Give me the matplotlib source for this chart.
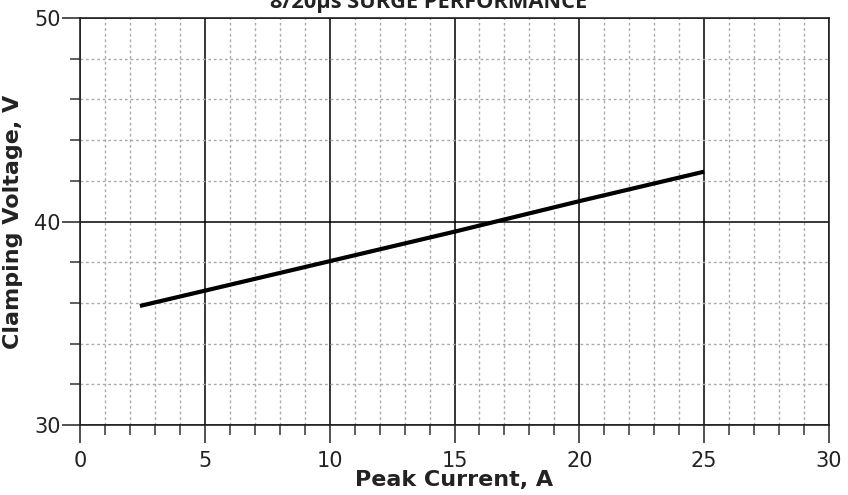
import numpy as np
import matplotlib.pyplot as plt
from matplotlib.ticker import MultipleLocator

# peak current (A) vs clamping voltage (V)
current = [2.4, 5, 10, 15, 20, 25]
voltage = [35.85, 36.6, 38.05, 39.5, 41.0, 42.45]

fig = plt.figure(figsize=(8.48, 4.95), dpi=100)
ax = fig.add_axes([80 / 848, 70 / 495, 749 / 848, 407 / 495])

ax.plot(current, voltage, color='black', lw=3, solid_capstyle='butt', zorder=3)

ax.set_xlim(0, 30)
ax.set_ylim(30, 50)
ax.xaxis.set_major_locator(MultipleLocator(5))
ax.xaxis.set_minor_locator(MultipleLocator(1))
ax.yaxis.set_major_locator(MultipleLocator(10))
ax.yaxis.set_minor_locator(MultipleLocator(2))

ax.grid(which='major', color='black', lw=1.1, ls='-')
ax.grid(which='minor', color='#aaaaaa', lw=1, ls=(0, (2, 2)))
ax.set_axisbelow(True)

ax.tick_params(which='major', direction='out', length=13, width=1.1,
               labelsize=15, colors='#222222')
ax.tick_params(which='minor', direction='out', length=7, width=1.1,
               colors='#333333')
ax.tick_params(axis='x', which='major', pad=6)
ax.tick_params(axis='y', which='major', pad=1)
for s in ax.spines.values():
    s.set_linewidth(1.2)
    s.set_color('#222222')

ax.set_xlabel('Peak Current, A', fontsize=16, fontweight='bold',
              color='#222222', labelpad=-1)
ax.set_ylabel('Clamping Voltage, V', fontsize=16, fontweight='bold',
              color='#222222', labelpad=8)
# title sits slightly left of centre and runs off the top, as in the original
ax.set_title('8/20µs SURGE PERFORMANCE', fontsize=15.7, fontweight='bold',
             family='Open Sans', color='#222222', pad=7, x=0.465)

fig.savefig('out.png', dpi=100)
